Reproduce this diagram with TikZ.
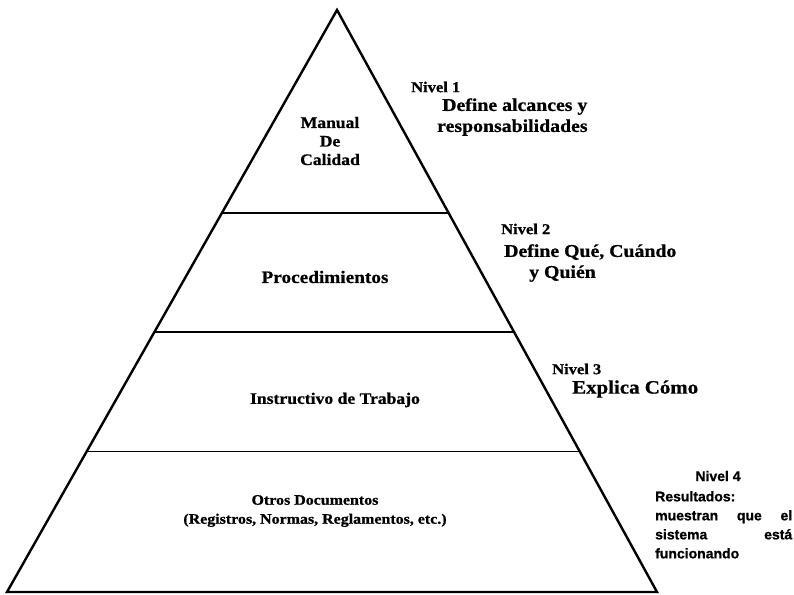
\documentclass[tikz,border=0pt]{standalone}
\usepackage{fontspec}
\setmainfont{Liberation Serif}
\newfontfamily\labfont{Liberation Serif Bold}[FakeStretch=1.1, FakeBold=0.8]
\newfontfamily\condsans{Liberation Sans Bold}[FakeBold=0.8]
\usetikzlibrary{calc}
\tikzset{
  side/.style={line width=2.4pt, line join=miter},
  tier/.style={line width=1.8pt},
  lvl/.style={font=\labfont\fontsize{16}{18.5}\selectfont, align=center, inner sep=0pt},
  niv/.style={font=\labfont\fontsize{15}{17}\selectfont, anchor=west, inner sep=0pt},
  desc/.style={font=\labfont\fontsize{18}{21}\selectfont, anchor=west, align=left, inner sep=0pt},
  res/.style={font=\condsans\fontsize{14}{19}\selectfont, inner sep=0pt}
}

\begin{document}
\begin{tikzpicture}[x=1pt, y=-1pt]
  \useasboundingbox (0,0) rectangle (794,594);
  % pyramid
  \coordinate (top) at (337,10);
  \coordinate (bl) at (7,592);
  \coordinate (br) at (657,592);
  \draw[side] (bl) -- (top) -- (br) -- cycle;
  \foreach \f in {0.6507,0.4469,0.2414}
    \draw[tier] ($(bl)!\f!(top)$) -- ($(br)!\f!(top)$);
  % tiers
  \node[lvl] (manual) at (330,141) {Manual\\De\\Calidad};
  \node[lvl, font=\labfont\fontsize{17.5}{19}\selectfont] (proc) at (325,277) {Procedimientos};
  \node[lvl] (instr) at (335,400) {Instructivo de Trabajo};
  \node[lvl, font=\labfont\fontsize{14.5}{19}\selectfont] (otros) at (315,511) {Otros Documentos\\(Registros, Normas, Reglamentos, etc.)};
  % levels
  \node[niv] (n1) at (411,87) {Nivel 1};
  \node[desc] (d1) at (437,117) {\hspace*{5pt}Define alcances y\\responsabilidades};
  \node[niv] (n2) at (501,229) {Nivel 2};
  \node[desc, font=\labfont\fontsize{18}{21}\selectfont] (d2) at (504,263) {Define Qué, Cuándo\\\hspace*{25pt}y Quién};
  \node[niv] (n3) at (552,369) {Nivel 3};
  \node[desc, font=\labfont\fontsize{19}{21}\selectfont] (d3) at (572,389) {Explica Cómo};
  \node[res] (n4) at (718,476) {Nivel 4};
  \node[res, anchor=north west, text width=137pt, align=left] (d4) at (655,491)
    {Resultados:\\\leavevmode\hbox to 137pt{muestran\hfill que\hfill el}\\\leavevmode\hbox to 137pt{sistema\hfill está}\\funcionando};
\end{tikzpicture}
\end{document}
